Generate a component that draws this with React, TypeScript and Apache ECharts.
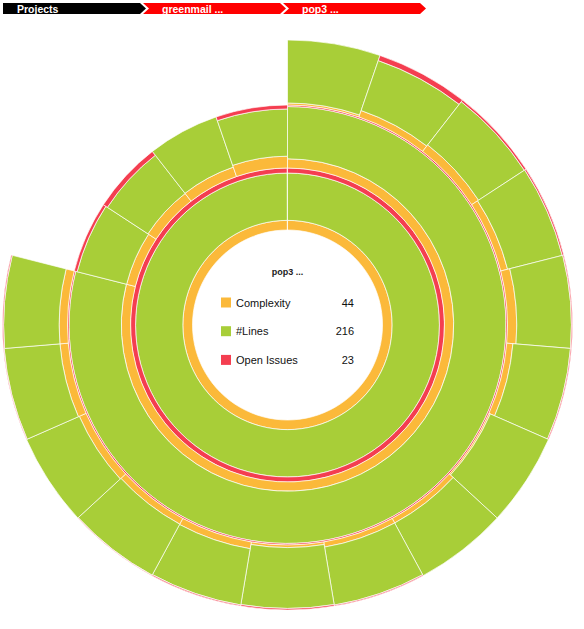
import React, { useEffect, useRef } from 'react';
import * as echarts from 'echarts';

// ---- data ----
const crumbs = ['Projects', 'greenmail ...', 'pop3 ...'];
const crumbColors = ['#000000', '#FF0000', '#FF0000'];

const metricNames = ['Complexity', '#Lines', 'Open Issues'];
const metricColors = ['#FBB93A', '#A8CE38', '#F43E50'];

const rootName = 'pop3 ...';
const rootValues = [44, 216, 23]; // complexity, lines, issues

// level-2 children of the root (first one holds the level-3 files)
const childLeafCount = [15, 1, 1, 1, 1];
const childComplexity = [30, 3, 4, 3, 3];
const childLines = [170, 17, 20, 16, 12];
const childIssues = [5, 1, 2, 0, 1];

// level-3 files inside the first child
const leafComplexity = [2, 5, 12, 9, 18, 12, 2, 5, 10, 5, 12, 12, 7, 14, 16];
const leafLines = [62, 39, 80, 72, 106, 112, 84, 58, 114, 118, 100, 108, 55, 94, 106];
const leafIssues = [0, 4, 3, 2, 2, 2, 0, 0, 2, 3, 2, 1, 0, 1, 2];

// ---- layout ----
const W = 584;
const H = 629;
const CX = 287.5;
const CY = 325;
const levelRadii = [95, 157, 220, 285];

type Node = { level: number; a0: number; a1: number; vals: number[] };

function buildRows() {
  const nodes: Node[] = [];
  const total = childLeafCount.reduce((s, v) => s + v, 0);
  nodes.push({ level: 0, a0: 0, a1: total, vals: rootValues });
  let acc = 0;
  childLeafCount.forEach((n, i) => {
    nodes.push({ level: 1, a0: acc, a1: acc + n, vals: [childComplexity[i], childLines[i], childIssues[i]] });
    if (i === 0) {
      leafLines.forEach((_, j) => {
        nodes.push({ level: 2, a0: acc + j, a1: acc + j + 1, vals: [leafComplexity[j], leafLines[j], leafIssues[j]] });
      });
    }
    acc += n;
  });
  const rows: number[][] = [];
  nodes.forEach((nd) => {
    const rIn = levelRadii[nd.level];
    const rOut = levelRadii[nd.level + 1];
    const sum = nd.vals.reduce((s, v) => s + v, 0);
    let r = rIn;
    nd.vals.forEach((v, m) => {
      const t = ((rOut - rIn) * v) / sum;
      if (t > 0) rows.push([r, nd.a0, r + t, nd.a1, m]);
      r += t;
    });
  });
  return { rows, total };
}

export default function App() {
  const ref = useRef<HTMLDivElement>(null);
  useEffect(() => {
    if (!ref.current) return;
    const chart = echarts.init(ref.current, undefined, { renderer: 'svg' });
    const { rows, total } = buildRows();

    const graphics: any[] = [];
    // breadcrumb
    crumbs.forEach((c, i) => {
      const x0 = 3 + i * 140;
      const pts =
        i === 0
          ? [[x0, 3], [x0 + 137, 3], [x0 + 143, 8.5], [x0 + 137, 14], [x0, 14]]
          : [[x0, 3], [x0 + 137, 3], [x0 + 143, 8.5], [x0 + 137, 14], [x0, 14], [x0 + 6, 8.5]];
      graphics.push({ type: 'polygon', shape: { points: pts }, style: { fill: crumbColors[i] } });
      graphics.push({
        type: 'text',
        x: i === 0 ? 17 : x0 + 19,
        y: 8.5,
        style: {
          text: c,
          fill: '#ffffff',
          fontSize: 10.5,
          fontWeight: 'bold',
          fontFamily: '"Liberation Sans", Arial, sans-serif',
          align: 'left',
          verticalAlign: 'middle',
        },
      });
    });
    // center info
    graphics.push({
      type: 'text',
      x: CX,
      y: 272,
      style: {
        text: rootName,
        fill: '#222222',
        fontSize: 9,
        fontWeight: 'bold',
        fontFamily: '"Liberation Sans", Arial, sans-serif',
        align: 'center',
        verticalAlign: 'middle',
      },
    });
    metricNames.forEach((name, i) => {
      const yc = 302.5 + i * 28.7;
      graphics.push({ type: 'rect', shape: { x: 221, y: yc - 5, width: 10, height: 10 }, style: { fill: metricColors[i] } });
      graphics.push({
        type: 'text',
        x: 236,
        y: yc,
        style: { text: name, fill: '#111111', fontSize: 11, fontFamily: '"Liberation Sans", Arial, sans-serif', align: 'left', verticalAlign: 'middle' },
      });
      graphics.push({
        type: 'text',
        x: 354,
        y: yc,
        style: { text: String(rootValues[i]), fill: '#111111', fontSize: 11, fontFamily: '"Liberation Sans", Arial, sans-serif', align: 'right', verticalAlign: 'middle' },
      });
    });

    chart.setOption({
      animation: false,
      polar: { center: [CX, CY], radius: [0, levelRadii[3]] },
      radiusAxis: { type: 'value', min: 0, max: levelRadii[3], show: false },
      angleAxis: { type: 'value', min: 0, max: total, startAngle: 90, clockwise: true, show: false },
      series: [
        {
          type: 'custom',
          coordinateSystem: 'polar',
          dimensions: ['rIn', 'a0', 'rOut', 'a1', 'm'],
          encode: { radius: 0, angle: 1 },
          data: rows,
          renderItem: (params: any, api: any) => {
            const rIn = api.value(0);
            const a0 = api.value(1);
            const rOut = api.value(2);
            const a1 = api.value(3);
            const m = api.value(4);
            const cs = params.coordSys;
            const pIn = api.coord([rIn, a0]);
            const pOut = api.coord([rOut, a1]);
            const r0 = Math.hypot(pIn[0] - cs.cx, pIn[1] - cs.cy);
            const r = Math.hypot(pOut[0] - cs.cx, pOut[1] - cs.cy);
            const sa = Math.atan2(pIn[1] - cs.cy, pIn[0] - cs.cx);
            let ea = Math.atan2(pOut[1] - cs.cy, pOut[0] - cs.cx);
            while (ea <= sa + 1e-9) ea += Math.PI * 2;
            if (ea - sa > Math.PI * 2 - 0.002) ea = sa + Math.PI * 2 - 0.002;
            return {
              type: 'sector',
              shape: { cx: cs.cx, cy: cs.cy, r0, r, startAngle: sa, endAngle: ea, clockwise: true },
              style: { fill: metricColors[m], stroke: 'rgba(255,255,255,0.85)', lineWidth: 0.8 },
            };
          },
        },
      ],
      graphic: graphics,
    });
    return () => chart.dispose();
  }, []);
  return <div ref={ref} style={{ position: 'absolute', left: 0, top: 0, width: W, height: H }} />;
}
